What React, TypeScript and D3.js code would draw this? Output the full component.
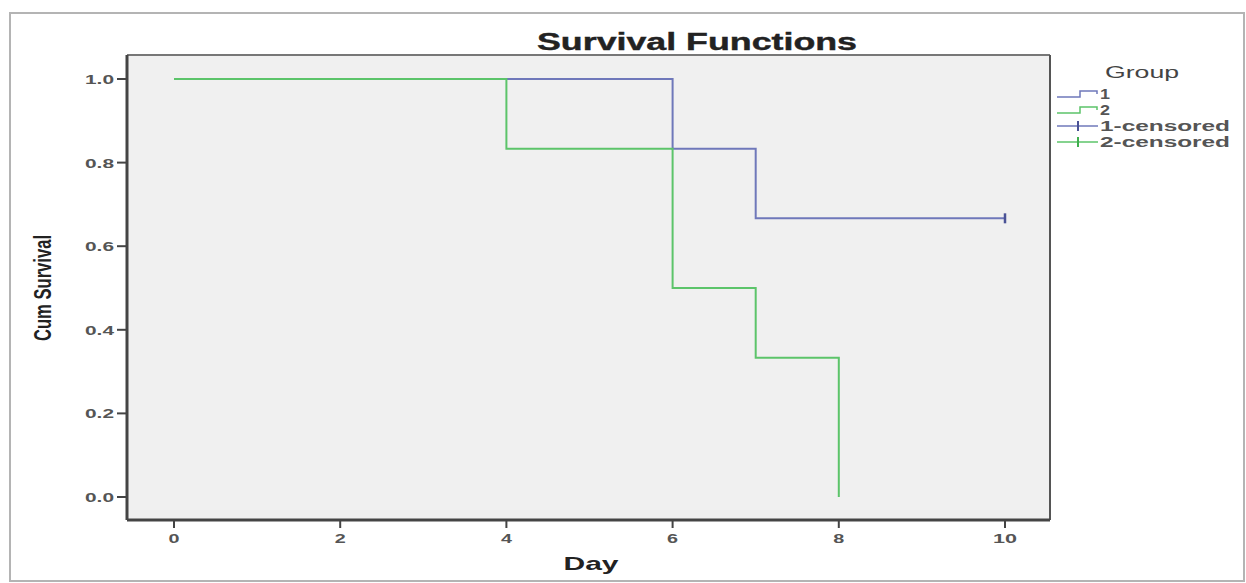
import React from "react";
import * as d3 from "d3";

const days1 = [0, 6, 7, 10];
const surv1 = [1.0, 0.8333, 0.6667, 0.6667];
const days2 = [0, 4, 6, 7, 8];
const surv2 = [1.0, 0.8333, 0.5, 0.3333, 0.0];
const censorDays1 = [10];
const censorSurv1 = [0.6667];
const xTicks = [0, 2, 4, 6, 8, 10];
const yTicks = [0, 0.2, 0.4, 0.6, 0.8, 1.0];
const legendLabels = ["1", "2", "1-censored", "2-censored"];

const blue = "#6f78ba";
const green = "#5cc46a";
const font = "'Liberation Sans', Arial, sans-serif";

const plot = { left: 127, top: 55, right: 1050, bottom: 520 };

export default function App() {
  const x = d3.scaleLinear().domain([0, 10]).range([174, 1005]);
  const y = d3.scaleLinear().domain([0, 1]).range([497, 79]);

  const line = d3
    .line<[number, number]>()
    .x((d) => x(d[0]))
    .y((d) => y(d[1]))
    .curve(d3.curveStepAfter);

  const pts1 = days1.map((d, i) => [d, surv1[i]] as [number, number]);
  const pts2 = days2.map((d, i) => [d, surv2[i]] as [number, number]);
  const path1 = line(pts1);
  const path2 = line(pts2);

  const legendColors = [blue, green, blue, green];

  return (
    <svg width={1246} height={583} style={{ position: "absolute", left: 0, top: 0, background: "#fff" }}>
      {/* outer frame */}
      <rect x={10} y={13} width={1234} height={568} fill="none" stroke="#b4b4b4" strokeWidth={2} />

      <text
        x={697}
        y={50}
        textAnchor="middle"
        fontFamily={font}
        fontWeight="bold"
        fontSize={23}
        fill="#222"
        stroke="#222"
        strokeWidth={0.4}
        textLength={320}
        lengthAdjust="spacingAndGlyphs"
      >
        Survival Functions
      </text>

      {/* plot area */}
      <rect
        x={plot.left}
        y={plot.top}
        width={plot.right - plot.left}
        height={plot.bottom - plot.top}
        fill="#f0f0f0"
      />
      <line x1={plot.left} x2={plot.right} y1={plot.top} y2={plot.top} stroke="#777" strokeWidth={2} />
      <line x1={plot.right} x2={plot.right} y1={plot.top} y2={plot.bottom} stroke="#555" strokeWidth={2} />

      {/* y axis */}
      {yTicks.map((t) => (
        <g key={"y" + t}>
          <line x1={plot.left - 10} x2={plot.left} y1={y(t)} y2={y(t)} stroke="#444" strokeWidth={2} />
          <text
            x={plot.left - 13}
            y={y(t) + 5}
            textAnchor="end"
            fontFamily={font}
            fontWeight="bold"
            fontSize={13}
            fill="#555"
            textLength={29}
            lengthAdjust="spacingAndGlyphs"
          >
            {t.toFixed(1)}
          </text>
        </g>
      ))}
      {/* x axis */}
      {xTicks.map((t) => (
        <g key={"x" + t}>
          <line x1={x(t)} x2={x(t)} y1={plot.bottom} y2={plot.bottom + 8} stroke="#444" strokeWidth={2} />
          <text
            x={x(t)}
            y={plot.bottom + 23}
            textAnchor="middle"
            fontFamily={font}
            fontWeight="bold"
            fontSize={13}
            fill="#555"
            textLength={t >= 10 ? 24 : 11}
            lengthAdjust="spacingAndGlyphs"
          >
            {t}
          </text>
        </g>
      ))}
      <line x1={plot.left} x2={plot.left} y1={plot.top} y2={plot.bottom} stroke="#444" strokeWidth={3} />
      <line x1={plot.left} x2={plot.right} y1={plot.bottom} y2={plot.bottom} stroke="#444" strokeWidth={3} />

      <text
        x={591}
        y={570}
        textAnchor="middle"
        fontFamily={font}
        fontWeight="bold"
        fontSize={19}
        fill="#222"
        textLength={55}
        lengthAdjust="spacingAndGlyphs"
      >
        Day
      </text>
      <text
        transform="translate(51,288) rotate(-90)"
        textAnchor="middle"
        fontFamily={font}
        fontWeight="bold"
        fontSize={23}
        fill="#222"
        textLength={106}
        lengthAdjust="spacingAndGlyphs"
      >
        Cum Survival
      </text>

      {/* survival curves */}
      <path d={path1 ?? ""} fill="none" stroke={blue} strokeWidth={2} />
      <path d={path2 ?? ""} fill="none" stroke={green} strokeWidth={2} />
      {censorDays1.map((d, i) => (
        <line
          key={"c" + i}
          x1={x(d)}
          x2={x(d)}
          y1={y(censorSurv1[i]) - 5}
          y2={y(censorSurv1[i]) + 5}
          stroke="#4a5296"
          strokeWidth={2.5}
        />
      ))}

      {/* legend */}
      <text x={1142} y={78} textAnchor="middle" fontFamily={font} fontSize={16} fill="#444" textLength={74} lengthAdjust="spacingAndGlyphs">
        Group
      </text>
      {legendLabels.map((lab, i) => {
        const ly = 94 + i * 16;
        const c = legendColors[i];
        return (
          <g key={lab}>
            {i < 2 ? (
              <path
                d={`M1057,${ly + 3}H1080V${ly - 3}H1097V${ly}`}
                fill="none"
                stroke={c}
                strokeWidth={1.5}
              />
            ) : (
              <g>
                <line x1={1057} x2={1098} y1={ly} y2={ly} stroke={c} strokeWidth={1.5} />
                <line x1={1078} x2={1078} y1={ly - 5} y2={ly + 5} stroke={i === 2 ? "#4a5296" : "#3fae4e"} strokeWidth={2} />
              </g>
            )}
            <text
              x={1100}
              y={ly + 5}
              fontFamily={font}
              fontWeight="bold"
              fontSize={14}
              fill="#555"
              textLength={lab.length > 2 ? 130 : 10}
              lengthAdjust="spacingAndGlyphs"
            >
              {lab}
            </text>
          </g>
        );
      })}
    </svg>
  );
}
